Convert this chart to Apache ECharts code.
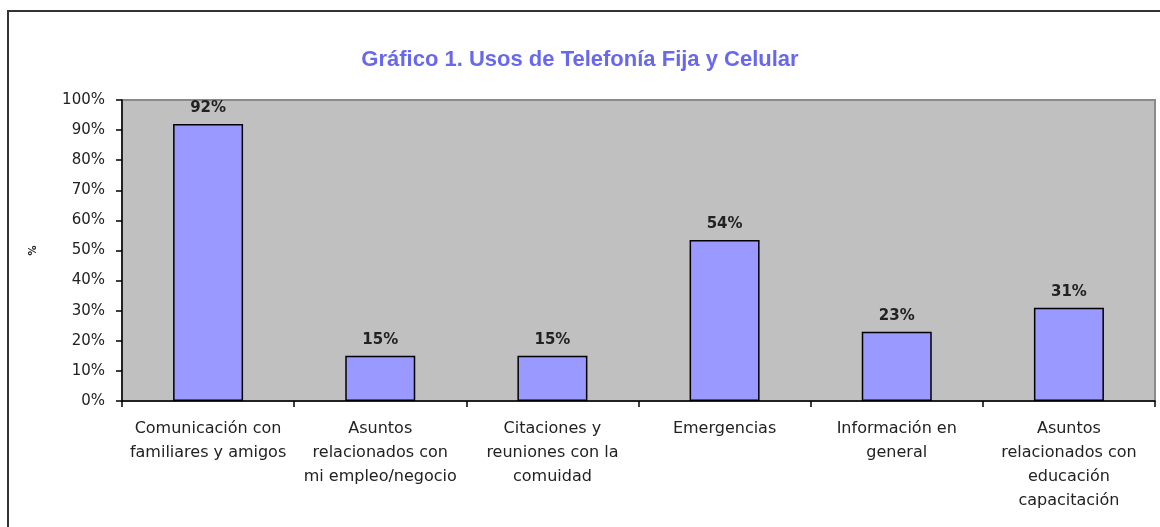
<!DOCTYPE html>
<html>
<head>
<meta charset="utf-8">
<script src="https://cdn.jsdelivr.net/npm/echarts@6/dist/echarts.min.js"></script>
<style>
  html, body { margin: 0; padding: 0; background: #fff; }
  #chart { width: 1160px; height: 527px; }
</style>
</head>
<body>
<div id="chart"></div>
<script>
// categorias y porcentajes
const categorias = [
    'Comunicación con\nfamiliares y amigos',
    'Asuntos\nrelacionados con\nmi empleo/negocio',
    'Citaciones y\nreuniones con la\ncomuidad',
    'Emergencias',
    'Información en\ngeneral',
    'Asuntos\nrelacionados con\neducación\ncapacitación'
];
const usos = [92, 15, 15, 53.5, 23, 31];
const ticksY = [0, 10, 20, 30, 40, 50, 60, 70, 80, 90, 100];

let chart = echarts.init(document.getElementById('chart'));
let option = {
    backgroundColor: '#fff',
    textStyle: { fontFamily: 'DejaVu Sans' },
    title: {
        text: 'Gráfico 1. Usos de Telefonía Fija y Celular',
        left: 'center',
        top: 44,
        textStyle: {
            color: '#6868ee', fontSize: 22, fontWeight: 'bold',
            fontFamily: 'Arial'
        }
    },
    graphic: [{
        type: 'rect',
        shape: { x: 8, y: 11, width: 1200, height: 600 },
        style: { fill: 'none', stroke: '#333', lineWidth: 2 },
        z: 10
    }],
    grid: {
        left: 122, top: 100, right: 5, bottom: 126,
        show: true,
        backgroundColor: '#c0c0c0',
        borderColor: '#8a8a8a',
        borderWidth: 2
    },
    xAxis: {
        type: 'category',
        data: categorias,
        axisLine: { lineStyle: { color: '#000', width: 1.5 } },
        axisTick: { show: true, length: 6, lineStyle: { color: '#000', width: 1.5 } },
        axisLabel: {
            color: '#222', fontSize: 16, lineHeight: 24, margin: 16, interval: 0
        }
    },
    yAxis: {
        type: 'value',
        min: 0, max: 100, interval: 10,
        name: '%',
        nameLocation: 'middle',
        nameGap: 84,
        nameTextStyle: { color: '#222', fontSize: 10, fontWeight: 'bold' },
        axisLine: { show: true, lineStyle: { color: '#000', width: 1.5 } },
        axisTick: { show: true, length: 6, lineStyle: { color: '#000', width: 1.5 } },
        splitLine: { show: false },
        axisLabel: {
            color: '#222', fontSize: 15, margin: 17,
            formatter: function (v) { return ticksY.includes(v) ? v + '%' : ''; }
        }
    },
    series: [{
        type: 'bar',
        data: usos,
        barWidth: 70,
        itemStyle: { color: '#9999ff', borderColor: '#000', borderWidth: 1.5 },
        label: {
            show: true,
            position: 'top',
            distance: 8,
            color: '#222',
            fontSize: 15,
            fontWeight: 'bold',
            formatter: function (p) { return Math.round(p.value) + '%'; }
        }
    }]
};
chart.setOption(option);
</script>
</body>
</html>
